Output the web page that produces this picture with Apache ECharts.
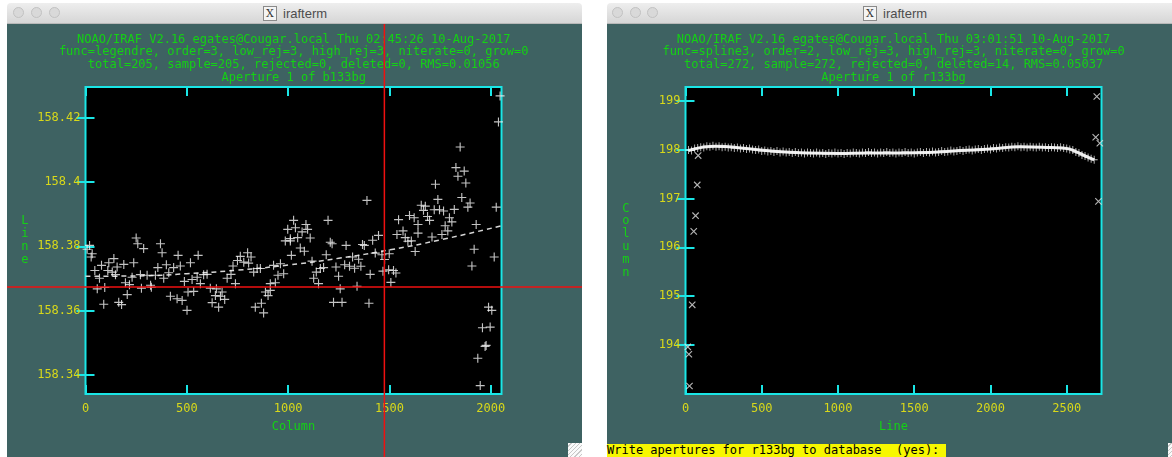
<!DOCTYPE html>
<html><head><meta charset="utf-8">
<script src="https://cdn.jsdelivr.net/npm/echarts@6/dist/echarts.min.js"></script>
<style>
html,body{margin:0;padding:0;background:#fff;}
body{width:1172px;height:457px;overflow:hidden;position:relative;font-family:"Liberation Sans",Arial,sans-serif;}
.win{position:absolute;top:3px;height:454px;overflow:hidden;}
.bar{position:absolute;left:0;top:0;right:0;height:21px;background:linear-gradient(#eeeeee,#d6d6d6);border-bottom:1px solid #b8b8b8;border-radius:4px 4px 0 0;box-sizing:border-box;}
.dot{position:absolute;top:4px;width:11px;height:11px;border-radius:50%;background:#d9d9d9;border:1px solid #c2c2c2;box-sizing:border-box;}
.ttl{position:absolute;top:3px;height:15px;font-size:13px;line-height:15px;color:#4d4d4d;white-space:nowrap;}
.xi{display:inline-block;width:12px;height:13px;border:1px solid #8a8a8a;background:#f4f4f4;color:#333;font-size:11px;line-height:13px;text-align:center;vertical-align:top;margin-right:6px;font-family:"DejaVu Serif",serif;}
.body{position:absolute;left:0;right:0;top:21px;bottom:0;background:#3e6262;}
.grip{position:absolute;width:14px;height:14px;background:#fafafa;background-image:repeating-linear-gradient(135deg,#fafafa 0 2px,#c8c8c8 2px 3px);}
#prompt{position:absolute;left:607px;top:444px;width:339px;height:13px;background:#f7f700;color:#000;font-family:"DejaVu Sans Mono",monospace;font-size:12px;line-height:13px;white-space:pre;}
#chart{position:absolute;left:0;top:0;width:1172px;height:457px;}
</style></head>
<body>
<div class="win" style="left:7px;width:575px;">
  <div class="bar"><div class="dot" style="left:6px"></div><div class="dot" style="left:24px"></div><div class="dot" style="left:42px"></div>
  <div class="ttl" style="left:256px;"><span class="xi">X</span>irafterm</div></div>
  <div class="body"></div>
  <div class="grip" style="right:0;bottom:0;"></div>
</div>
<div class="win" style="left:607px;width:575px;">
  <div class="bar"><div class="dot" style="left:5px"></div><div class="dot" style="left:23px"></div><div class="dot" style="left:40px"></div>
  <div class="ttl" style="left:256px;"><span class="xi">X</span>irafterm</div></div>
  <div class="body"></div>
  <div class="grip" style="left:561px;bottom:0;"></div>
</div>
<div id="prompt">Write apertures for r133bg to database  (yes): </div>
<div id="chart"></div>
<script>
// ---------------- data ----------------
const leftHeader = [
  "NOAO/IRAF V2.16 egates@Cougar.local Thu 02:45:26 10-Aug-2017",
  "func=legendre, order=3, low_rej=3, high_rej=3, niterate=0, grow=0",
  "total=205, sample=205, rejected=0, deleted=0, RMS=0.01056",
  "Aperture 1 of b133bg"
];
const rightHeader = [
  "NOAO/IRAF V2.16 egates@Cougar.local Thu 03:01:51 10-Aug-2017",
  "func=spline3, order=2, low_rej=3, high_rej=3, niterate=0, grow=0",
  "total=272, sample=272, rejected=0, deleted=14, RMS=0.05037",
  "Aperture 1 of r133bg"
];
const leftXTicks = [0, 500, 1000, 1500, 2000];
const leftXLabels = ["0", "500", "1000", "1500", "2000"];
const leftYTicks = [158.34, 158.36, 158.38, 158.4, 158.42];
const leftYLabels = ["158.34", "158.36", "158.38", "158.4", "158.42"];
const rightXTicks = [0, 500, 1000, 1500, 2000, 2500];
const rightXLabels = ["0", "500", "1000", "1500", "2000", "2500"];
const rightYTicks = [194, 195, 196, 197, 198, 199];
const rightYLabels = ["194", "195", "196", "197", "198", "199"];
const leftCursor = [1475, 158.3674];

const leftPoints = [
[20,158.3803],[8,158.3791],[33,158.3777],[28,158.3767],[79,158.3741],[46,158.3725],[140,158.3762],[115,158.3749],
[156,158.3736],[189,158.3744],[238,158.3749],[250,158.3826],[258,158.3808],[287,158.3793],[370,158.3808],[378,158.3780],
[457,158.3772],[556,158.3772],[357,158.3734],[399,158.3743],[435,158.3734],[468,158.3739],[518,158.3749],[110,158.3725],
[132,158.3720],[69,158.3701],[148,158.3712],[230,158.3704],[271,158.3712],[304,158.3710],[345,158.3710],[386,158.3701],
[411,158.3718],[197,158.3687],[217,158.3681],[58,158.3668],[95,158.3672],[276,158.3670],[325,158.3673],[321,158.3679],
[206,158.3650],[90,158.3620],[164,158.3626],[178,158.3619],[419,158.3645],[452,158.3637],[477,158.3632],[501,158.3601],
[488,158.3691],[526,158.3697],[551,158.3704],[567,158.3684],[583,158.3712],[600,158.3713],[506,158.3658],[534,158.3660],
[616,158.3670],[646,158.3668],[625,158.3625],[641,158.3647],[657,158.3611],[666,158.3645],[674,158.3658],[687,158.3635],
[699,158.3701],[718,158.3713],[740,158.3684],[728,158.3739],[750,158.3756],[764,158.3769],[800,158.3780],[817,158.3767],
[781,158.3751],[805,158.3748],[830,158.3720],[847,158.3731],[863,158.3731],[928,158.3741],[962,158.3746],[978,158.3715],
[950,158.3710],[912,158.3684],[937,158.3687],[888,158.3658],[901,158.3647],[912,158.3663],[838,158.3611],[868,158.3623],
[879,158.3593],[998,158.3853],[986,158.3817],[1011,158.3817],[1016,158.3772],
[1027,158.3881],[1036,158.3858],[1011,158.3824],[1047,158.3827],[1069,158.3845],[1088,158.3868],[1096,158.3853],[1109,158.3826],
[1060,158.3795],[1080,158.3785],[1118,158.3754],[1197,158.3881],[1208,158.3813],[1217,158.3808],[1188,158.3774],[1175,158.3734],
[1159,158.3731],[1139,158.3720],[1126,158.3701],[1150,158.3684],[1236,158.3736],[1249,158.3707],[1257,158.3668],[1286,158.3803],
[1279,158.3743],[1303,158.3738],[1328,158.3732],[1359,158.3738],[1318,158.3767],[1348,158.3760],[1367,158.3806],[1376,158.3803],
[1417,158.3819],[1446,158.3834],[1389,158.3943],[1405,158.3713],[1340,158.3676],[1224,158.3626],[1266,158.3626],[1399,158.3623],
[1430,158.3779],[1463,158.3774],[1476,158.3759],[1499,158.3777],[1468,158.3723],[1496,158.3727],[1520,158.3725],[1532,158.3717],
[1507,158.3688],[1545,158.3883],[1537,158.3837],[1567,158.3848],[1578,158.3827],[1591,158.3816],[1608,158.3817],[1599,158.3896],
[1622,158.3889],[1627,158.3784],[1641,158.3868],[1641,158.3841],[1657,158.3928],[1677,158.3925],[1668,158.3912],[1688,158.3893],
[1698,158.3881],[1710,158.3829],[1721,158.3914],[1727,158.3993],[1739,158.3946],[1747,158.3914],[1767,158.3910],[1759,158.3837],
[1775,158.3864],[1788,158.3848],[1796,158.3889],[1808,158.3876],[1820,158.3915],[1828,158.4045],[1838,158.4018],[1849,158.4109],
[1857,158.3952],[1869,158.4034],[1877,158.3997],[1887,158.3922],[1898,158.3935],[1928,158.3868],[1918,158.3791],[1907,158.3739],
[1989,158.3611],[2005,158.3601],[1959,158.3547],[1997,158.3549],[1972,158.3489],[1977,158.3492],[1936,158.3452],[1948,158.3367],
[2027,158.3922],[2017,158.3767],[2046,158.4268],[2038,158.4187]
];
const leftFit = [[0,158.3707],[250,158.3708],[500,158.3715],[750,158.3726],[1000,158.3742],[1250,158.3763],[1500,158.3789],[1750,158.3820],[2053,158.3864]];

const rightPoints = [
[20,197.99],[40,197.98],[60,198.02],[80,198.03],[100,198.05],[120,198.04],[140,198.07],[160,198.06],[180,198.08],[200,198.06],
[220,198.07],[240,198.05],[260,198.06],[280,198.04],[300,198.05],[320,198.03],[340,198.04],[360,198.02],[380,198.03],[400,198.01],
[420,198.02],[440,198.00],[460,197.99],[480,198.00],[500,197.97],[520,197.98],[540,197.96],[560,197.97],[580,197.95],[600,197.97],
[620,197.94],[640,197.96],[660,197.94],[680,197.95],[700,197.93],[720,197.95],[740,197.93],[760,197.94],[780,197.92],[800,197.94],
[820,197.93],[840,197.92],[860,197.94],[880,197.92],[900,197.93],[920,197.91],[940,197.93],[960,197.92],[980,197.94],[1000,197.92],
[1020,197.93],[1040,197.91],[1060,197.93],[1080,197.92],[1100,197.94],[1120,197.93],[1140,197.92],[1160,197.94],[1180,197.93],[1200,197.95],
[1220,197.93],[1240,197.94],[1260,197.92],[1280,197.94],[1300,197.93],[1320,197.95],[1340,197.93],[1360,197.94],[1380,197.92],[1400,197.94],
[1420,197.93],[1440,197.95],[1460,197.93],[1480,197.94],[1500,197.92],[1520,197.94],[1540,197.95],[1560,197.93],[1580,197.95],[1600,197.94],
[1620,197.96],[1640,197.94],[1660,197.95],[1680,197.97],[1700,197.95],[1720,197.96],[1740,197.98],[1760,197.96],[1780,197.97],[1800,197.99],
[1820,197.97],[1840,197.99],[1860,198.00],[1880,197.98],[1900,198.00],[1920,198.01],[1940,197.99],[1960,198.01],[1980,198.02],[2000,198.00],
[2020,198.03],[2040,198.02],[2060,198.04],[2080,198.03],[2100,198.05],[2120,198.04],[2140,198.06],[2160,198.05],[2180,198.07],[2200,198.05],
[2220,198.06],[2240,198.04],[2260,198.06],[2280,198.05],[2300,198.04],[2320,198.06],[2340,198.04],[2360,198.05],[2380,198.03],[2400,198.05],
[2420,198.04],[2440,198.03],[2460,198.05],[2480,198.03],[2500,198.02],[2520,198.00],[2540,197.99],[2560,197.95],[2580,197.93],[2600,197.89],
[2620,197.87],[2640,197.84],[2660,197.81],[2680,197.79]
];
const rightFit = [[20,197.98],[100,198.04],[200,198.07],[400,198.02],[600,197.96],[800,197.93],[1000,197.92],[1200,197.93],[1400,197.93],
[1600,197.94],[1800,197.98],[2000,198.01],[2200,198.06],[2400,198.04],[2500,198.02],[2560,197.96],[2620,197.87],[2680,197.79]];
const rightDeleted = [
[83,197.877],[77,197.277],[66,196.648],[54,196.326],[44,194.824],[15,193.963],[22,193.813],[26,193.164],
[2697,199.086],[2690,198.252],[2717,198.129],[2708,196.941]
];

// ---------------- styles ----------------
const MONO = 'DejaVu Sans Mono';
const GREEN = '#14d214';
const YELLOW = '#d8d81a';
const CYAN = '#1ae6e6';
const PLUS = 'path://M0,3.5H8V4.5H0Z M3.5,0H4.5V8H3.5Z';

function labelFmt(ticks, labels) {
  return function (v) {
    for (let i = 0; i < ticks.length; i++) if (Math.abs(ticks[i] - v) < 1e-6) return labels[i];
    return '';
  };
}
function tick(vals) {
  return { show: true, inside: true, length: 9, lineStyle: { color: CYAN, width: 2 }, customValues: vals };
}
function mkX(grid, min, max, ticks, labels, name) {
  return [
    { gridIndex: grid, type: 'value', min: min, max: max, position: 'bottom',
      axisLine: { show: false }, splitLine: { show: false }, axisTick: tick(ticks),
      axisLabel: { customValues: ticks, formatter: labelFmt(ticks, labels), color: YELLOW, fontFamily: MONO, fontSize: 12, margin: 9 },
      name: name, nameLocation: 'middle', nameGap: 27,
      nameTextStyle: { color: GREEN, fontFamily: MONO, fontSize: 12 } },
    { gridIndex: grid, type: 'value', min: min, max: max, position: 'top',
      axisLine: { show: false }, splitLine: { show: false }, axisTick: tick(ticks), axisLabel: { show: false } }
  ];
}
function mkY(grid, min, max, ticks, labels, name, gap) {
  return [
    { gridIndex: grid, type: 'value', min: min, max: max, position: 'left',
      axisLine: { show: false }, splitLine: { show: false }, axisTick: tick(ticks),
      axisLabel: { customValues: ticks, formatter: labelFmt(ticks, labels), color: YELLOW, fontFamily: MONO, fontSize: 12, margin: 5 },
      name: name.split('').join('\n'), nameLocation: 'middle', nameRotate: 0, nameGap: gap,
      nameTextStyle: { color: GREEN, fontFamily: MONO, fontSize: 12, lineHeight: 12.8, align: 'right', verticalAlign: 'middle' } },
    { gridIndex: grid, type: 'value', min: min, max: max, position: 'right',
      axisLine: { show: false }, splitLine: { show: false }, axisTick: tick(ticks), axisLabel: { show: false } }
  ];
}
function headerTexts(lines, cx, prefix) {
  const ys = [39.5, 52, 64.5, 78.3];
  return lines.map((t, i) => ({
    type: 'text', id: prefix + i, x: cx, y: ys[i], silent: true, z: 5,
    style: { text: t, fill: GREEN, font: '12px "DejaVu Sans Mono"', textAlign: 'center', textVerticalAlign: 'middle' }
  }));
}

const chart = echarts.init(document.getElementById('chart'), null, { renderer: 'canvas' });
const gridStyle = { show: true, backgroundColor: '#000', borderColor: CYAN, borderWidth: 2, containLabel: false };
chart.setOption({
  backgroundColor: 'transparent',
  animation: false,
  grid: [
    Object.assign({ left: 85.5, top: 87, width: 416, height: 307 }, gridStyle),
    Object.assign({ left: 685.5, top: 87, width: 416, height: 307 }, gridStyle)
  ],
  xAxis: [].concat(
    mkX(0, 0, 2053, leftXTicks, leftXLabels, 'Column'),
    mkX(1, 0, 2728, rightXTicks, rightXLabels, 'Line')
  ),
  yAxis: [].concat(
    mkY(0, 158.33409, 158.42956, leftYTicks, leftYLabels, 'Line', 57),
    mkY(1, 193.0, 199.28, rightYTicks, rightYLabels, 'Column', 56)
  ),
  series: [
    { type: 'line', xAxisIndex: 0, yAxisIndex: 0, data: leftFit, smooth: true, showSymbol: false, silent: true,
      lineStyle: { color: '#d6d6d6', width: 1.5, type: [5, 4] }, z: 3 },
    { type: 'scatter', xAxisIndex: 0, yAxisIndex: 0, data: leftPoints, symbol: PLUS, symbolSize: 9, silent: true,
      itemStyle: { color: '#f4f4f4' }, z: 4 },
    { type: 'line', xAxisIndex: 2, yAxisIndex: 2, data: rightFit, smooth: true, showSymbol: false, silent: true,
      lineStyle: { color: '#e6e6e6', width: 3 }, z: 3 },
    { type: 'scatter', xAxisIndex: 2, yAxisIndex: 2, data: rightPoints, symbol: PLUS, symbolSize: [7, 8], silent: true,
      itemStyle: { color: '#f6f6f6' }, z: 4 },
    { type: 'scatter', xAxisIndex: 2, yAxisIndex: 2, data: rightDeleted, symbol: PLUS, symbolSize: 9, symbolRotate: 45, silent: true,
      itemStyle: { color: '#e2e2e2' }, z: 4 }
  ],
  graphic: { elements: [].concat(headerTexts(leftHeader, 293.7, 'lh'), headerTexts(rightHeader, 893.6, 'rh')) }
});

// red cross-hair cursor of the left window, placed through the axes
const cp = chart.convertToPixel({ gridIndex: 0 }, leftCursor);
chart.setOption({
  graphic: { elements: [
    { type: 'line', id: 'curV', silent: true, z: 50, shape: { x1: cp[0], y1: 24, x2: cp[0], y2: 457 }, style: { stroke: '#f01010', lineWidth: 1.5 } },
    { type: 'line', id: 'curH', silent: true, z: 50, shape: { x1: 7, y1: cp[1], x2: 582, y2: cp[1] }, style: { stroke: '#f01010', lineWidth: 1.5 } }
  ] }
});
</script>
</body></html>
